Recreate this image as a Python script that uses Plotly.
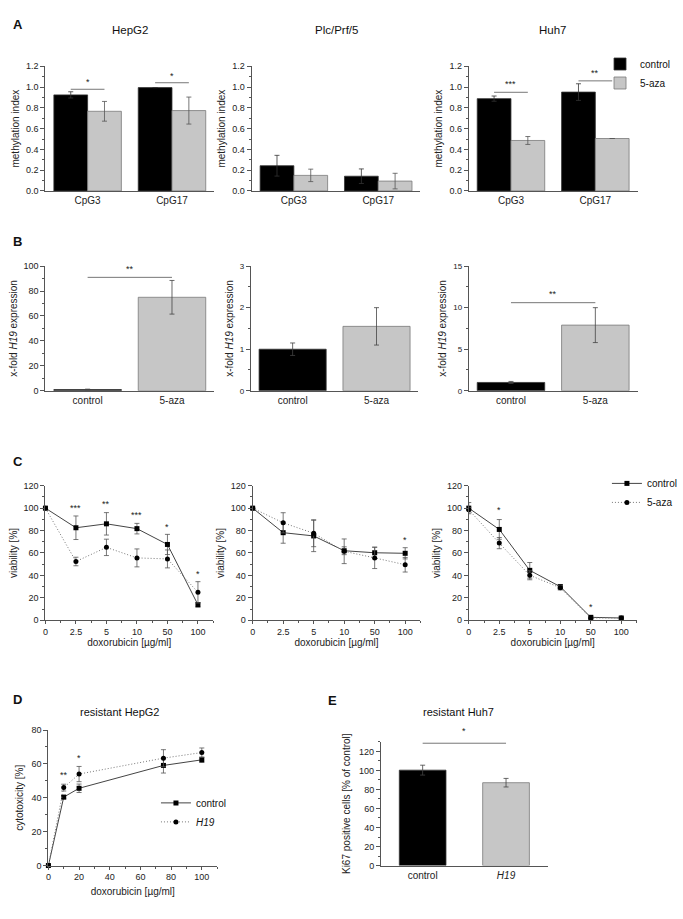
import plotly.graph_objects as go

W, H = 683, 919
FONT = "Liberation Sans Narrow, Arial Narrow, Liberation Sans, Arial, sans-serif"
AX = "#555555"


def px_x(p):
    return p / W


def px_y(p):
    return 1 - p / H


# ---------------- data ----------------
# Panel A: methylation index
a_cells = ["HepG2", "Plc/Prf/5", "Huh7"]
cpg_sites = ["CpG3", "CpG17"]
a_control = [[0.925, 0.995], [0.243, 0.142], [0.889, 0.952]]
a_control_err = [[0.03, 0.0], [0.10, 0.07], [0.025, 0.08]]
a_aza = [[0.767, 0.774], [0.150, 0.095], [0.486, 0.505]]
a_aza_err = [[0.095, 0.13], [0.06, 0.075], [0.038, 0.0]]
a_sig_text = [["*", "*"], [None, None], ["***", "**"]]
a_sig_line = [[0.979, 1.042], [None, None], [0.95, 1.06]]
a_sig_star = [[1.05, 1.11], [None, None], [1.03, 1.14]]

# Panel B: x-fold H19 expression
b_groups = ["control", "5-aza"]
b_values = [[1.0, 75.0], [1.0, 1.55], [1.0, 7.9]]
b_err = [[0.3, 13.5], [0.15, 0.45], [0.12, 2.1]]
b_ymax = [100, 3, 15]
b_dtick = [20, 1, 5]
b_sig_text = ["**", None, "**"]
b_sig_line = [91, None, 10.6]
b_sig_star = [98, None, 11.6]

# Panel C: viability
doses = ["0", "2.5", "5", "10", "50", "100"]
c_control = [[100, 82.5, 86.0, 81.7, 67.6, 13.8],
             [100, 78.1, 75.2, 62.0, 60.2, 59.7],
             [100, 81.0, 44.5, 29.9, 2.6, 2.0]]
c_control_err = [[0, 10.5, 10.0, 4.7, 9.0, 2.0],
                 [0, 9.4, 14.0, 3.5, 5.0, 5.0],
                 [5, 8.8, 7.0, 2.0, 1.0, 1.0]]
c_aza = [[100, 52.4, 65.0, 55.6, 54.7, 24.9],
         [100, 86.9, 77.6, 61.5, 55.6, 49.5],
         [98.6, 68.8, 40.1, 29.0, 2.0, 2.0]]
c_aza_err = [[0, 3.8, 7.3, 8.0, 8.0, 9.5],
             [0, 9.0, 12.0, 11.0, 9.5, 6.5],
             [2, 5.0, 4.0, 2.0, 1.0, 1.0]]
c_sig_text = [["", "***", "**", "***", "*", "*"],
              ["", "", "", "", "", "*"],
              ["", "*", "", "", "*", ""]]
c_sig_y = [[0, 100, 104, 93.7, 83.4, 41.6],
           [0, 0, 0, 0, 0, 71.7],
           [0, 98, 0, 0, 11.4, 0]]

# Panel D: cytotoxicity resistant HepG2
d_doses = [0, 10, 20, 75, 100]
d_control = [0, 40.4, 45.6, 59.1, 62.4]
d_control_err = [0, 1.0, 2.5, 4.5, 1.5]
d_h19 = [0, 46.0, 54.0, 63.4, 66.7]
d_h19_err = [0, 2.0, 4.5, 5.0, 2.7]
d_sig_text = ["", "**", "*", "", ""]
d_sig_y = [0, 53.7, 63.4, 0, 0]

# Panel E: Ki67 resistant Huh7
e_groups = ["control", "H19"]
e_values = [100.3, 87.1]
e_err = [5.2, 4.5]
e_sig_line = 128.6
e_sig_star = 141

# ---------------- layout geometry (pixels) ----------------
A_x = [(43, 214), (252, 423), (472, 643)]
A_y = (62, 188)
B_x = [(43, 214), (251, 421), (472, 643)]
B_y = (264, 390)
C_x = [(43, 213), (253, 423), (472, 642)]
C_y = (486, 622)
D_x = (46, 217)
D_y = (733, 870)
E_x = (383, 552)
E_y = (745, 870)

fig = go.Figure()
layout = {}
annotations = []
shapes = []

tickfont = dict(family=FONT, size=9, color="#222")
catfont = dict(family=FONT, size=10, color="#222")
titlefont = dict(family=FONT, size=10, color="#222")
DOT = "1px,2px"


def axis_names(i):
    return ("xaxis" if i == 1 else f"xaxis{i}",
            "yaxis" if i == 1 else f"yaxis{i}",
            "x" if i == 1 else f"x{i}",
            "y" if i == 1 else f"y{i}")


def base_axis():
    return dict(showline=True, linecolor=AX, linewidth=1, showgrid=False,
                zeroline=False, ticks="outside", ticklen=4, tickcolor=AX,
                tickwidth=1, tickfont=tickfont)


def set_axes(i, xpx, ypx, xkw, ykw):
    xa, ya, xr, yr = axis_names(i)
    xd = base_axis()
    xd.update(domain=[px_x(xpx[0]), px_x(xpx[1])], anchor=yr)
    xd.update(xkw)
    yd = base_axis()
    yd.update(domain=[px_y(ypx[1]), px_y(ypx[0])], anchor=xr)
    yd.update(ykw)
    layout[xa] = xd
    layout[ya] = yd
    return xr, yr


def err(arr, color="#555"):
    return dict(type="data", array=arr, color=color, thickness=0.8, width=2.5)


def sig_line(xr, yr, x0, x1, y):
    shapes.append(dict(type="line", xref=xr, yref=yr, x0=x0, x1=x1, y0=y, y1=y,
                       line=dict(color="#777", width=1)))


def star(xr, yr, x, y, text, yref=None):
    annotations.append(dict(xref=xr, yref=yref or yr, x=x, y=y, text=text,
                            showarrow=False, font=dict(family=FONT, size=9, color="#222"),
                            yanchor="middle", xanchor="center"))


def label(xp, yp, text, size=11, bold=False):
    annotations.append(dict(xref="paper", yref="paper", x=px_x(xp), y=px_y(yp),
                            text=f"<b>{text}</b>" if bold else text, showarrow=False,
                            font=dict(family="Liberation Sans, Arial, sans-serif" if bold else FONT,
                                      size=size, color="#111"),
                            xanchor="center", yanchor="middle"))


# ---------------- Panel A ----------------
for k in range(3):
    i = 1 + k
    xr, yr = set_axes(i, A_x[k], A_y,
                      dict(type="category", range=[-0.5, 1.5], ticks="", tickfont=catfont),
                      dict(range=[0, 1.2], dtick=0.2, tickformat=".1f",
                           minor=dict(dtick=0.1, ticklen=2, tickcolor=AX, ticks="outside"),
                           title=dict(text="methylation index", font=titlefont, standoff=4)))
    fig.add_trace(go.Bar(x=cpg_sites, y=a_control[k], error_y=err(a_control_err[k], "#333"),
                         name="control", xaxis=xr, yaxis=yr, legend="legend",
                         marker=dict(color="#000000", line=dict(color="#333", width=0.8)),
                         showlegend=(k == 2)))
    fig.add_trace(go.Bar(x=cpg_sites, y=a_aza[k], error_y=err(a_aza_err[k]),
                         name="5-aza", xaxis=xr, yaxis=yr, legend="legend",
                         marker=dict(color="#c6c6c6", line=dict(color="#7a7a7a", width=0.8)),
                         showlegend=(k == 2)))
    for j in range(len(cpg_sites)):
        if a_sig_text[k][j]:
            sig_line(xr, yr, j - 0.2, j + 0.2, a_sig_line[k][j])
            star(xr, yr, j, a_sig_star[k][j], a_sig_text[k][j])
    label((A_x[k][0] + A_x[k][1]) / 2, 25, a_cells[k], size=11.5)

# ---------------- Panel B ----------------
for k in range(3):
    i = 4 + k
    tf = tickfont if k == 0 else dict(family=FONT, size=8, color="#222")
    xr, yr = set_axes(i, B_x[k], B_y,
                      dict(type="category", range=[-0.5, 1.5], ticks="", tickfont=catfont),
                      dict(range=[0, b_ymax[k]], dtick=b_dtick[k], tickfont=tf,
                           minor=dict(dtick=b_dtick[k] / 2, ticklen=2, tickcolor=AX, ticks="outside"),
                           title=dict(text="x-fold <i>H19</i> expression", font=titlefont, standoff=4)))
    fig.add_trace(go.Bar(x=b_groups, y=b_values[k], error_y=err(b_err[k], "#444"),
                         xaxis=xr, yaxis=yr, showlegend=False,
                         marker=dict(color=["#000000", "#c6c6c6"],
                                     line=dict(color=["#333", "#7a7a7a"], width=0.8))))
    if b_sig_text[k]:
        sig_line(xr, yr, 0, 1, b_sig_line[k])
        star(xr, yr, 0.5, b_sig_star[k], b_sig_text[k])

# ---------------- Panel C ----------------
dose_idx = list(range(len(doses)))
for k in range(3):
    i = 7 + k
    xr, yr = set_axes(i, C_x[k], C_y,
                      dict(range=[0, 5.5], tickvals=dose_idx, ticktext=doses, ticklen=3,
                           minor=dict(dtick=0.5, tick0=0, ticklen=2, tickcolor=AX, ticks="outside"),
                           title=dict(text="doxorubicin [µg/ml]", font=titlefont, standoff=2)),
                      dict(range=[0, 120], dtick=20,
                           minor=dict(dtick=10, ticklen=2, tickcolor=AX, ticks="outside"),
                           title=dict(text="viability [%]", font=titlefont, standoff=4)))
    fig.add_trace(go.Scatter(x=dose_idx, y=c_control[k], error_y=err(c_control_err[k]),
                             name="control", xaxis=xr, yaxis=yr, mode="lines+markers",
                             line=dict(color="#444", width=1),
                             marker=dict(symbol="square", size=5, color="#000"),
                             legend="legend2", showlegend=(k == 2), cliponaxis=False))
    fig.add_trace(go.Scatter(x=dose_idx, y=c_aza[k], error_y=err(c_aza_err[k]),
                             name="5-aza", xaxis=xr, yaxis=yr, mode="lines+markers",
                             line=dict(color="#777", width=1, dash=DOT),
                             marker=dict(symbol="circle", size=5, color="#000"),
                             legend="legend2", showlegend=(k == 2), cliponaxis=False))
    for j, t in enumerate(c_sig_text[k]):
        if t:
            star(xr, yr, dose_idx[j], c_sig_y[k][j], t)

# ---------------- Panel D ----------------
xr, yr = set_axes(10, D_x, D_y,
                  dict(range=[0, 110], dtick=20, ticklen=3,
                       minor=dict(dtick=10, ticklen=2, tickcolor=AX, ticks="outside"),
                       title=dict(text="doxorubicin [µg/ml]", font=titlefont, standoff=6)),
                  dict(range=[0, 80], dtick=20,
                       minor=dict(dtick=10, ticklen=2, tickcolor=AX, ticks="outside"),
                       title=dict(text="cytotoxicity [%]", font=titlefont, standoff=6)))
fig.add_trace(go.Scatter(x=d_doses, y=d_control, error_y=err(d_control_err), name="control",
                         xaxis=xr, yaxis=yr, mode="lines+markers", legend="legend3",
                         line=dict(color="#444", width=1),
                         marker=dict(symbol="square", size=5, color="#000"), cliponaxis=False))
fig.add_trace(go.Scatter(x=d_doses, y=d_h19, error_y=err(d_h19_err), name="<i>H19</i>",
                         xaxis=xr, yaxis=yr, mode="lines+markers", legend="legend3",
                         line=dict(color="#777", width=1, dash=DOT),
                         marker=dict(symbol="circle", size=5, color="#000"), cliponaxis=False))
for j, t in enumerate(d_sig_text):
    if t:
        star(xr, yr, d_doses[j], d_sig_y[j], t)

# ---------------- Panel E ----------------
E_ymax = 130
xr, yr = set_axes(11, E_x, E_y,
                  dict(type="category", range=[-0.5, 1.5], ticks="", tickfont=catfont,
                       tickvals=e_groups, ticktext=["control", "<i>H19</i>"]),
                  dict(range=[0, E_ymax], dtick=20,
                       minor=dict(dtick=10, ticklen=2, tickcolor=AX, ticks="outside"),
                       title=dict(text="Ki67 positive cells [% of control]", font=titlefont, standoff=6)))
fig.add_trace(go.Bar(x=e_groups, y=e_values, error_y=err(e_err, "#444"), width=0.56,
                     xaxis=xr, yaxis=yr, showlegend=False,
                     marker=dict(color=["#000000", "#c6c6c6"],
                                 line=dict(color=["#333", "#7a7a7a"], width=0.8))))
sig_line(xr, yr, 0, 1, e_sig_line)
star(xr, yr, 0.5, e_sig_star / E_ymax, "*", yref="y11 domain")

# ---------------- labels ----------------
label(15, 20, "A", size=13, bold=True)
label(15, 239, "B", size=13, bold=True)
label(15, 462, "C", size=13, bold=True)
label(15, 702, "D", size=13, bold=True)
label(334, 703, "E", size=13, bold=True)
label(118, 715, "resistant HepG2", size=11)
label(462, 715, "resistant Huh7", size=11)

legfont = dict(family=FONT, size=10, color="#111")
layout.update(
    width=W, height=H, margin=dict(l=0, r=0, t=0, b=0),
    paper_bgcolor="white", plot_bgcolor="white",
    barmode="group", bargap=0.2, bargroupgap=0,
    font=dict(family=FONT, color="#222"),
    annotations=annotations, shapes=shapes,
    legend=dict(x=px_x(605), y=px_y(45), xanchor="left", yanchor="top",
                font=legfont, bgcolor="rgba(0,0,0,0)", tracegroupgap=0),
    legend2=dict(x=px_x(612), y=px_y(469), xanchor="left", yanchor="top",
                 font=legfont, bgcolor="rgba(0,0,0,0)", tracegroupgap=0),
    legend3=dict(x=px_x(155), y=px_y(792), xanchor="left", yanchor="top",
                 font=legfont, bgcolor="rgba(0,0,0,0)", tracegroupgap=0),
)
fig.update_layout(**layout)

fig.write_html("out.html", config={"displayModeBar": False},
               post_script="document.body.style.margin='0';")
